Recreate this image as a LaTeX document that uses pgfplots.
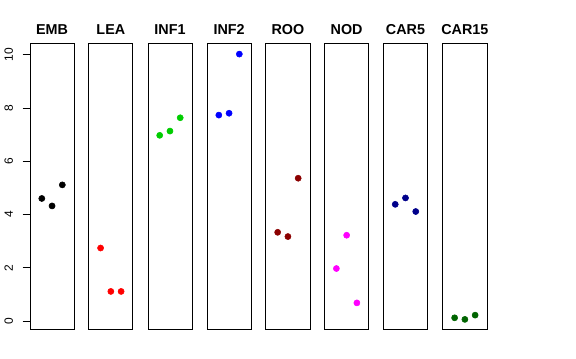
\documentclass[border=0pt]{standalone}
\usepackage{pgfplots}
\pgfplotsset{compat=1.18}
\usepackage{fontspec}
\setmainfont{Liberation Sans}
\definecolor{rgreen}{RGB}{0,205,0}
\definecolor{rdarkred}{RGB}{139,0,0}
\definecolor{rmagenta}{RGB}{255,0,255}
\definecolor{rnavy}{RGB}{0,0,139}
\definecolor{rdarkgreen}{RGB}{0,100,0}
\begin{document}
\begin{tikzpicture}
\path (0,0) rectangle (432pt,-270pt);
\pgfplotsset{panel/.style={scale only axis, width=33.2pt, height=215.75pt,
  xmin=-0.15, xmax=4.15, ymin=-0.33, ymax=10.43, anchor=north west,
  xtick=\empty, ytick=\empty,
  title style={at={(0.5,1)}, anchor=base, yshift=0.25pt, font=\fontsize{10.8}{12}\selectfont\bfseries},
  axis line style={black, line width=0.6pt}, clip=false}}
\pgfplotsset{dots/.style={only marks, mark=*, mark size=2.3pt, mark options={draw=#1, fill=#1}}}

\begin{axis}[panel, at={(21pt,-32.5pt)}, title={EMB},
  ytick={0,2,4,6,8,10}, ytick pos=left, tick align=outside, major tick length=5.6pt,
  yticklabel style={xshift=-3.75pt, rotate=90, anchor=south, font=\fontsize{9}{10}\selectfont},
  /pgf/number format/assume math mode=true, tick style={line width=0.6pt, black}]
\addplot[dots=black] coordinates {(1,4.60) (2,4.32) (3,5.11)};
\end{axis}
\begin{axis}[panel, at={(65.25pt,-32.5pt)}, title={LEA}]
\addplot[dots=red] coordinates {(1,2.74) (2,1.11) (3,1.11)};
\end{axis}
\begin{axis}[panel, at={(109.75pt,-32.5pt)}, title={INF1}]
\addplot[dots=rgreen] coordinates {(1,6.97) (2,7.13) (3,7.63)};
\end{axis}
\begin{axis}[panel, at={(154.25pt,-32.5pt)}, title={INF2}]
\addplot[dots=blue] coordinates {(1,7.73) (2,7.80) (3,10.02)};
\end{axis}
\begin{axis}[panel, at={(198.55pt,-32.5pt)}, title={ROO}]
\addplot[dots=rdarkred] coordinates {(1,3.33) (2,3.17) (3,5.36)};
\end{axis}
\begin{axis}[panel, at={(242.75pt,-32.5pt)}, title={NOD}]
\addplot[dots=rmagenta] coordinates {(1,1.97) (2,3.22) (3,0.68)};
\end{axis}
\begin{axis}[panel, at={(287.05pt,-32.5pt)}, title={CAR5}]
\addplot[dots=rnavy] coordinates {(1,4.38) (2,4.62) (3,4.11)};
\end{axis}
\begin{axis}[panel, at={(331.75pt,-32.5pt)}, title={CAR15}]
\addplot[dots=rdarkgreen] coordinates {(1,0.12) (2,0.06) (3,0.22)};
\end{axis}
\end{tikzpicture}
\end{document}
